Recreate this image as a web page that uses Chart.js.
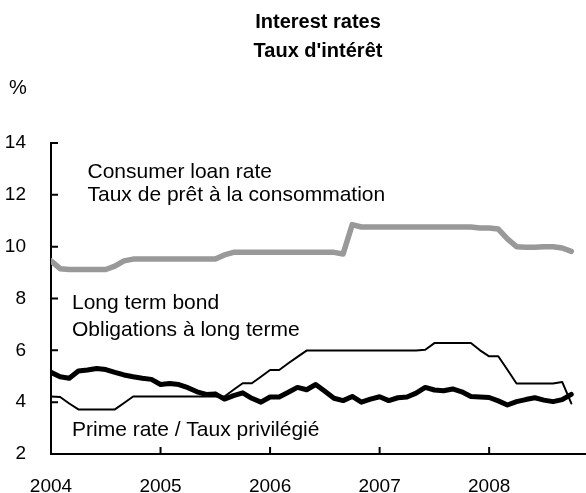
<!DOCTYPE html>
<html>
<head>
<meta charset="utf-8">
<script src="https://cdn.jsdelivr.net/npm/chart.js@4.4.1/dist/chart.umd.min.js"></script>
<style>
  html, body { margin: 0; padding: 0; background: #fff; overflow: hidden; }
  #wrap { width: 586px; height: 493px; }
</style>
</head>
<body>
<div id="wrap"><canvas id="chart"></canvas></div>
<script>
// x axis: monthly, Jan 2004 .. Oct 2008
const yearLabels = ["2004", "2005", "2006", "2007", "2008"];
const months = [];
yearLabels.forEach((y) => {
  for (let m = 1; m <= 12; m++) if (months.length < 58) months.push(y + "-" + String(m).padStart(2, "0"));
});
const yTicks = [2, 4, 6, 8, 10, 12, 14];

const consumerLoan = [
  9.45, 9.15, 9.12, 9.12, 9.12, 9.12, 9.12, 9.25, 9.45, 9.52,
  9.52, 9.52, 9.52, 9.52, 9.52, 9.52, 9.52, 9.52, 9.52, 9.68,
  9.78, 9.78, 9.78, 9.78, 9.78, 9.78, 9.78, 9.78, 9.78, 9.78,
  9.78, 9.78, 9.72, 10.85, 10.76, 10.76, 10.76, 10.76, 10.76, 10.76,
  10.76, 10.76, 10.76, 10.76, 10.76, 10.76, 10.76, 10.72, 10.72, 10.68,
  10.3, 10.0, 9.98, 9.98, 10.0, 10.0, 9.95, 9.82
];
const longTermBond = [
  5.15, 4.98, 4.92, 5.2, 5.24, 5.3, 5.26, 5.15, 5.05, 4.98,
  4.92, 4.88, 4.68, 4.72, 4.68, 4.56, 4.4, 4.3, 4.32, 4.12,
  4.25, 4.36, 4.15, 4.0, 4.2, 4.2, 4.38, 4.57, 4.48, 4.68,
  4.42, 4.15, 4.06, 4.22, 4.0, 4.12, 4.21, 4.06, 4.17, 4.2,
  4.35, 4.57, 4.47, 4.44, 4.51, 4.4, 4.22, 4.2, 4.18, 4.05,
  3.89, 4.02, 4.1, 4.17, 4.08, 4.02, 4.1, 4.3
];
const primeRate = [
  4.22, 4.2, 3.95, 3.72, 3.72, 3.72, 3.72, 3.72, 3.97, 4.22,
  4.22, 4.22, 4.22, 4.22, 4.22, 4.22, 4.22, 4.22, 4.22, 4.22,
  4.48, 4.73, 4.73, 4.98, 5.24, 5.24, 5.5, 5.75, 5.99, 5.99,
  5.99, 5.99, 5.99, 5.99, 5.99, 5.99, 5.99, 5.99, 5.99, 5.99,
  5.99, 6.02, 6.28, 6.28, 6.28, 6.28, 6.28, 6.0, 5.77, 5.77,
  5.25, 4.72, 4.72, 4.72, 4.72, 4.72, 4.78, 3.95
];

const FONT = "'Liberation Sans', Arial, sans-serif";
const toXY = (arr) => arr.map((v, i) => ({ x: i, y: v }));

// title, unit, series labels and inward tick marks
const decorations = {
  id: "decorations",
  afterDraw(chart) {
    const { ctx, chartArea, scales } = chart;
    const x = scales.x, y = scales.y;
    ctx.save();
    ctx.fillStyle = "#000";
    ctx.textBaseline = "middle";

    ctx.font = "bold 20px " + FONT;
    ctx.textAlign = "center";
    const cx = (chartArea.left + chartArea.right) / 2;
    ctx.fillText("Interest rates", cx, 22);
    ctx.fillText("Taux d'intérêt", cx, 51);

    ctx.font = "20px " + FONT;
    ctx.textAlign = "left";
    ctx.fillText("%", 9, 88);

    ctx.font = "21px " + FONT;
    ctx.fillText("Consumer loan rate", x.getPixelForValue(4), y.getPixelForValue(12.88));
    ctx.fillText("Taux de prêt à la consommation", x.getPixelForValue(4), y.getPixelForValue(11.99));
    ctx.fillText("Long term bond", x.getPixelForValue(2.3), y.getPixelForValue(7.81));
    ctx.fillText("Obligations à long terme", x.getPixelForValue(2.3), y.getPixelForValue(6.77));
    ctx.fillText("Prime rate / Taux privilégié", x.getPixelForValue(2.3), y.getPixelForValue(2.9));

    ctx.strokeStyle = "#000";
    ctx.lineWidth = 2;
    ctx.beginPath();
    x.ticks.forEach((t) => {
      const px = x.getPixelForValue(t.value);
      ctx.moveTo(px, chartArea.bottom);
      ctx.lineTo(px, chartArea.bottom - 7);
    });
    y.ticks.forEach((t) => {
      const py = y.getPixelForValue(t.value);
      ctx.moveTo(chartArea.left, py);
      ctx.lineTo(chartArea.left + 7, py);
    });
    ctx.stroke();
    ctx.restore();
  },
};

new Chart(document.getElementById("chart"), {
  type: "line",
  data: {
    labels: months,
    datasets: [
      { label: "Long term bond", data: toXY(longTermBond), borderColor: "#000", borderWidth: 5 },
      { label: "Prime rate", data: toXY(primeRate), borderColor: "#000", borderWidth: 2 },
      { label: "Consumer loan rate", data: toXY(consumerLoan), borderColor: "#999999", borderWidth: 5.5 },
    ],
  },
  options: {
    responsive: true,
    maintainAspectRatio: false,
    animation: false,
    events: [],
    datasets: {
      line: { pointRadius: 0, tension: 0, borderJoinStyle: "round", borderCapStyle: "round" },
    },
    layout: { padding: { top: 143, right: 1, left: 0, bottom: 0 } },
    plugins: { legend: { display: false }, tooltip: { enabled: false } },
    scales: {
      x: {
        type: "linear",
        min: 0,
        max: 58.5,
        afterBuildTicks: (s) => { s.ticks = yearLabels.map((_, i) => ({ value: i * 12 })); },
        afterFit: (s) => { s.height = 39; },
        grid: { display: false },
        border: { display: true, color: "#000", width: 2 },
        ticks: {
          color: "#000",
          font: { family: FONT, size: 19 },
          padding: 13,
          maxRotation: 0,
          callback: (v) => yearLabels[Math.round(v / 12)],
        },
      },
      y: {
        min: 2,
        max: 14,
        afterBuildTicks: (s) => { s.ticks = yTicks.map((v) => ({ value: v })); },
        afterFit: (s) => { s.width = 51; },
        grid: { display: false },
        border: { display: true, color: "#000", width: 2 },
        ticks: {
          color: "#000",
          font: { family: FONT, size: 19 },
          padding: 17,
        },
      },
    },
  },
  plugins: [decorations],
});
</script>
</body>
</html>
